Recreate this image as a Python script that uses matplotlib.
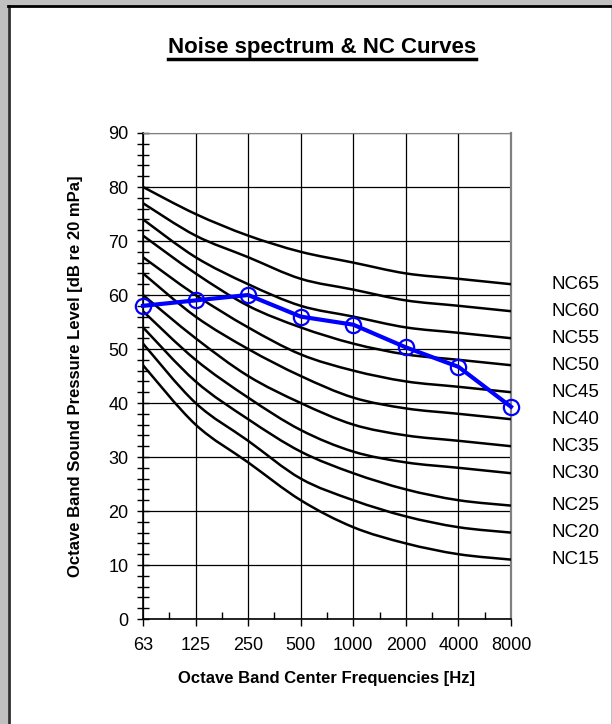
import numpy as np
import matplotlib
matplotlib.use("Agg")
import matplotlib.pyplot as plt
from matplotlib.path import Path
from matplotlib.patches import PathPatch, Rectangle
from matplotlib.lines import Line2D
from matplotlib.ticker import MultipleLocator, FixedLocator

plt.rcParams['font.family'] = ['Liberation Sans', 'DejaVu Sans']

freqs = ["63", "125", "250", "500", "1000", "2000", "4000", "8000"]

nc_names = ["NC65", "NC60", "NC55", "NC50", "NC45", "NC40",
            "NC35", "NC30", "NC25", "NC20", "NC15"]
nc65 = [80, 75, 71, 68, 66, 64, 63, 62]
nc60 = [77, 71, 67, 63, 61, 59, 58, 57]
nc55 = [74, 67, 62, 58, 56, 54, 53, 52]
nc50 = [71, 64, 58, 54, 51, 49, 48, 47]
nc45 = [67, 60, 54, 49, 46, 44, 43, 42]
nc40 = [64, 56, 50, 45, 41, 39, 38, 37]
nc35 = [60, 52, 45, 40, 36, 34, 33, 32]
nc30 = [57, 48, 41, 35, 31, 29, 28, 27]
nc25 = [54, 44, 37, 31, 27, 24, 22, 21]
nc20 = [51, 40, 33, 26, 22, 19, 17, 16]
nc15 = [47, 36, 29, 22, 17, 14, 12, 11]
nc_curves = [nc65, nc60, nc55, nc50, nc45, nc40, nc35, nc30, nc25, nc20, nc15]

noise = [58, 59, 60, 56, 54.5, 50.3, 46.7, 39.3]


def smooth_path(x, y):
    """Excel-like smoothed line: cubic Bezier segments through the points."""
    pts = np.column_stack([x, y]).astype(float)
    n = len(pts)
    verts = [pts[0]]
    codes = [Path.MOVETO]
    for i in range(n - 1):
        p0 = pts[i - 1] if i > 0 else pts[i]
        p1 = pts[i]
        p2 = pts[i + 1]
        p3 = pts[i + 2] if i + 2 < n else pts[i + 1]
        c1 = p1 + (p2 - p0) / 6.0
        c2 = p2 - (p3 - p1) / 6.0
        verts += [c1, c2, p2]
        codes += [Path.CURVE4] * 3
    return Path(verts, codes)


fig = plt.figure(figsize=(6.12, 7.24), dpi=100)
fig.patch.set_facecolor("#c0c0c0")

# chart area panel
fig.patches.append(Rectangle((8 / 612, 0), 603 / 612, 718 / 724,
                             transform=fig.transFigure, facecolor="white",
                             edgecolor="none", zorder=-10))
fig.lines.append(Line2D([8.5 / 612, 8.5 / 612], [0, 718.5 / 724],
                        transform=fig.transFigure, color="#303030", lw=2,
                        zorder=-5))
fig.lines.append(Line2D([8 / 612, 611 / 612], [718.5 / 724, 718.5 / 724],
                        transform=fig.transFigure, color="black", lw=2,
                        zorder=-5))

ax = fig.add_axes([143 / 612, 1 - 619 / 724, 368 / 612, 486 / 724])
ax.set_facecolor("white")
x = np.arange(len(freqs))

for vals in nc_curves:
    ax.add_patch(PathPatch(smooth_path(x, vals), facecolor="none",
                           edgecolor="black", lw=1.8, zorder=3))

for name, vals in zip(nc_names, nc_curves):
    ax.annotate(name, xy=(x[-1], vals[-1]), xytext=(29, 0),
                textcoords="offset points", ha="left", va="center",
                fontsize=13.5, annotation_clip=False)

ax.plot(x, noise, color="#0000ff", lw=3, marker="o", markersize=11,
        markerfacecolor="none", markeredgecolor="#0000ff",
        markeredgewidth=1.6, zorder=4, clip_on=False)

ax.set_xlim(0, len(freqs) - 1)
ax.set_ylim(0, 90)
ax.xaxis.set_major_locator(FixedLocator(x))
ax.set_xticklabels(freqs)
ax.xaxis.set_minor_locator(FixedLocator(x[:-1] + 0.5))
ax.yaxis.set_major_locator(MultipleLocator(10))
ax.yaxis.set_minor_locator(MultipleLocator(2))

ax.tick_params(axis="x", which="major", direction="out", length=5,
               width=1, labelsize=13, pad=8)
ax.tick_params(axis="x", which="minor", direction="in", length=5, width=1)
ax.tick_params(axis="y", which="major", direction="inout", length=9,
               width=1, labelsize=13, pad=6)
ax.tick_params(axis="y", which="minor", direction="inout", length=8, width=1)

ax.grid(True, which="major", color="black", lw=0.9, zorder=1)
ax.set_axisbelow(True)
for side in ["left", "bottom"]:
    ax.spines[side].set_linewidth(1.2)
ax.spines["top"].set_color("#808080")
ax.spines["right"].set_color("#808080")
ax.spines["right"].set_linewidth(1.6)

ax.set_xlabel("Octave Band Center Frequencies [Hz]", fontsize=12,
              fontweight="bold", labelpad=12)
ax.set_ylabel("Octave Band Sound Pressure Level [dB re 20 mPa]",
              fontsize=12, fontweight="bold", labelpad=18)

title = fig.text(322 / 612, 1 - 48 / 724, "Noise spectrum & NC Curves",
                 ha="center", va="center", fontsize=16, fontweight="bold")
fig.canvas.draw()
bb = title.get_window_extent(renderer=fig.canvas.get_renderer())
inv = fig.transFigure.inverted()
(x0, y0), (x1, y1) = inv.transform([(bb.x0, bb.y0), (bb.x1, bb.y1)])
fig.lines.append(Line2D([x0, x1], [y0 - 0.001, y0 - 0.001],
                        transform=fig.transFigure, color="black", lw=2.5))

fig.savefig("out.png", dpi=100, facecolor=fig.get_facecolor())
